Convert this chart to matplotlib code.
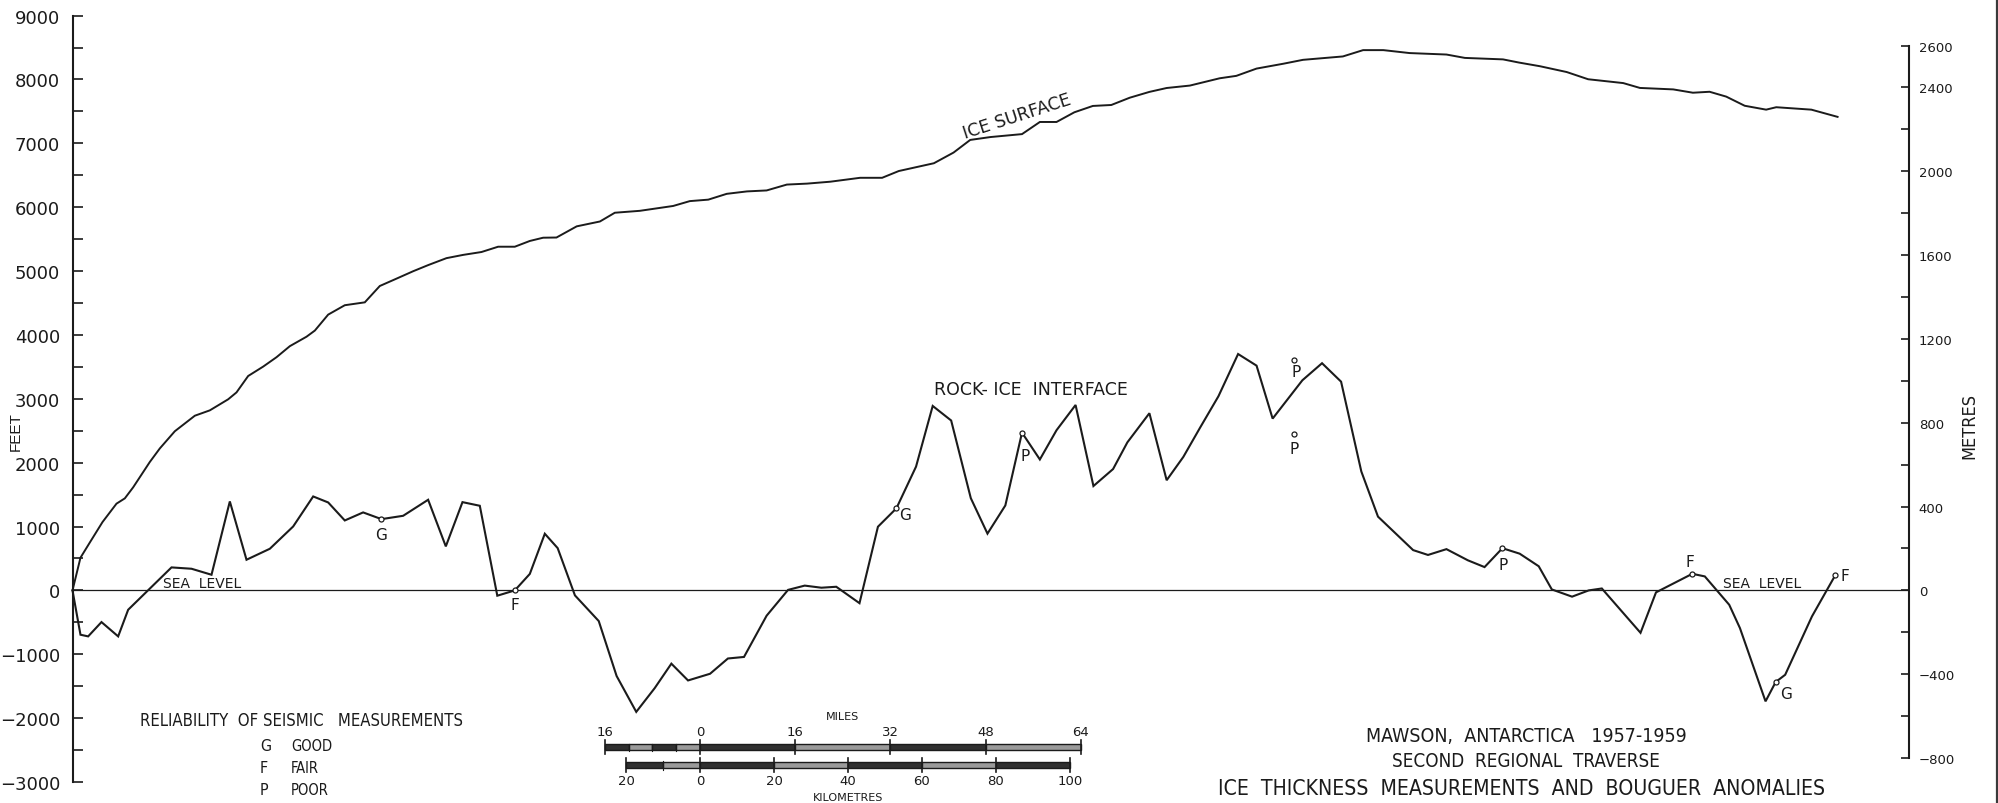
import matplotlib
matplotlib.use("Agg")
import matplotlib.pyplot as plt
from matplotlib import font_manager as fm
from matplotlib.transforms import blended_transform_factory
from matplotlib.patches import Rectangle
from matplotlib.lines import Line2D
from matplotlib.ticker import FixedLocator, FixedFormatter, NullFormatter

# ---------------------------------------------------------------- data
# distance along the traverse (miles) and elevation above sea level (feet)
ice_miles = [0, 1.34, 2.91, 5.04, 7.39, 8.79, 10.19, 12.99, 14.67, 17.19, 20.55,
             23.07, 26.15, 27.55, 29.51, 32.03, 34.27, 36.51, 39.31, 40.71, 42.95,
             45.74, 49.10, 51.62, 54.42, 57.22, 59.74, 62.82, 65.62, 68.70, 71.50,
             74.30, 76.82, 79.06, 81.3, 84.7, 88.6, 91.1, 95.3, 100.9, 103.7, 106.8,
             109.9, 113.3, 116.6, 120.0, 123.4, 127.3, 132.3, 136.0, 138.8, 144.7,
             148.0, 150.8, 154.2, 159.5, 162.5, 165.3, 168.3, 171.4, 174.5, 177.6,
             180.9, 183.8, 187.7, 192.7, 195.5, 198.9, 203.4, 206.7, 213.4, 216.8,
             220.2, 224.6, 230.8, 233.9, 240.3, 243.0, 246.5, 251.0, 254.6, 260.5,
             263.3, 268.9, 272.2, 275.0, 277.8, 280.9, 284.5, 286.2, 292.1, 296.5]
ice_feet = [0, 512, 750, 1070, 1358, 1441, 1614, 2011, 2223, 2492, 2735,
            2819, 2992, 3100, 3357, 3504, 3651, 3824, 3972, 4068, 4318,
            4465, 4510, 4766, 4881, 4997, 5093, 5202, 5253, 5298, 5381,
            5381, 5471, 5522, 5525, 5700, 5776, 5913, 5943, 6019, 6095, 6118,
            6209, 6247, 6262, 6354, 6369, 6399, 6460, 6460, 6566, 6688,
            6855, 7053, 7098, 7144, 7334, 7334, 7486, 7585, 7600, 7714,
            7805, 7866, 7904, 8018, 8056, 8170, 8246, 8307, 8360, 8459,
            8459, 8413, 8390, 8337, 8314, 8264, 8207, 8116, 8003, 7943,
            7867, 7844, 7792, 7807, 7731, 7588, 7527, 7565, 7527, 7414]

rock_miles = [0, 1.34, 2.63, 4.87, 7.67, 9.35, 16.63, 19.99, 23.35, 26.43, 29.23,
              33.15, 37.07, 40.43, 42.95, 45.74, 48.82, 51.90, 55.54, 59.74, 62.71,
              65.51, 68.42, 71.36, 74.30, 76.82, 79.34, 81.5, 84.4, 88.4, 91.4,
              94.7, 97.8, 100.6, 103.4, 107.1, 110.1, 112.8, 116.6, 120.2, 123.0,
              125.8, 128.3, 132.2, 135.3, 138.4, 141.7, 144.5, 147.6, 150.9, 153.7,
              156.7, 159.5, 162.5, 165.3, 168.5, 171.5, 174.8, 177.2, 180.9, 183.8,
              186.6, 189.4, 192.5, 195.8, 198.9, 201.6, 206.6, 209.9, 213.1, 216.5,
              219.3, 225.2, 227.7, 230.8, 234.4, 237.2, 240.2, 243.1, 246.3, 248.5,
              251.9, 254.7, 256.9, 263.4, 266.0, 272.1, 274.2, 278.3, 280.1, 284.4,
              286.1, 287.7, 292.2, 296.1]
rock_feet = [0, -694, -720, -496, -720, -303, 360, 339, 245, 1393, 480,
             652, 1001, 1471, 1377, 1095, 1221, 1116, 1168, 1419, 689,
             1382, 1325, -83, 0, 258, 887, 662, -78, -480, -1340,
             -1902, -1530, -1147, -1410, -1305, -1066, -1042, -396, 8, 75,
             42, 57, -200, 997, 1285, 1938, 2888, 2660, 1444, 889,
             1330, 2470, 2050, 2508, 2903, 1634, 1900, 2318, 2774, 1725,
             2090, 2546, 3040, 3701, 3519, 2690, 3290, 3557, 3268, 1862,
             1155, 631, 555, 646, 471, 365, 661, 575, 378, 15,
             -98, 0, 30, -664, -31, 260, 219, -225, -590, -1737,
             -1435, -1321, -407, 235]

# seismic soundings and their reliability grade
mark_miles = [51.9, 74.3, 138.4, 159.5, 205.2, 205.2, 240.2, 272.1, 286.1, 296.1]
mark_feet = [1116, 0, 1285, 2470, 3610, 2447, 661, 260, -1435, 235]
mark_grade = ["G", "F", "G", "P", "P", "P", "P", "F", "G", "F"]

feet_ticks = [-3000, -2000, -1000, 0, 1000, 2000, 3000, 4000, 5000, 6000, 7000, 8000, 9000]
feet_labels = ["\u22123000", "\u22122000", "\u22121000", "0", "1000", "2000", "3000",
               "4000", "5000", "6000", "7000", "8000", "9000"]
metre_ticks = [-800, -400, 0, 400, 800, 1200, 1600, 2000, 2400, 2600]
metre_labels = ["\u2212800", "\u2212400", "0", "400", "800", "1200", "1600", "2000",
                "2400", "2600"]

mile_scale = [-16, 0, 16, 32, 48, 64]
mile_scale_labels = ["16", "0", "16", "32", "48", "64"]
km_scale = [-20, 0, 20, 40, 60, 80, 100]
km_scale_labels = ["20", "0", "20", "40", "60", "80", "100"]

legend_codes = ["G", "F", "P"]
legend_names = ["GOOD", "FAIR", "POOR"]

FT_PER_M = 3.28084
KM_PER_MILE = 1.609344

# ---------------------------------------------------------------- fonts
def narrow_font():
    entries = fm.fontManager.ttflist
    names = {f.name for f in entries}
    if "Liberation Sans Narrow" in names:
        return {"family": "Liberation Sans Narrow"}
    for f in entries:
        if f.name == "DejaVu Sans" and str(f.stretch) in ("condensed", "semi-condensed"):
            return {"family": "DejaVu Sans", "stretch": f.stretch}
    return {"family": "Liberation Sans"}

NARROW = narrow_font()
ROUND = {"family": "DejaVu Sans"}
PLAIN = {"family": "Liberation Sans"}
INK = "#1b1b1b"

# ---------------------------------------------------------------- layout
W, H = 1999, 804
fig = plt.figure(figsize=(W / 100, H / 100), dpi=100)
fig.patch.set_facecolor("white")

PX_PER_MILE = 5.953
PX_PER_FT = 0.06387
X0_PX, Y0_PX = 72.5, 591.4          # left axis / sea level, pixels from top-left
X_RIGHT = (1909 - X0_PX) / PX_PER_MILE

ax = fig.add_axes([0, 0, 1, 1])
ax.set_xlim(-X0_PX / PX_PER_MILE, (W - X0_PX) / PX_PER_MILE)
ax.set_ylim(-(H - Y0_PX) / PX_PER_FT, Y0_PX / PX_PER_FT)
ax.patch.set_alpha(0)

for side in ("top", "bottom", "right"):
    ax.spines[side].set_visible(False)
ax.spines["left"].set_position(("data", 0))
ax.spines["left"].set_bounds(-3000, 9000)
ax.spines["left"].set_linewidth(1.5)
ax.spines["left"].set_color(INK)
ax.set_xticks([])
ax.yaxis.set_major_locator(FixedLocator(feet_ticks))
ax.yaxis.set_major_formatter(FixedFormatter(feet_labels))
ax.yaxis.set_minor_locator(FixedLocator([t + 500 for t in feet_ticks[:-1]]))
ax.yaxis.set_minor_formatter(NullFormatter())
ax.tick_params(axis="y", which="both", direction="in", length=7, width=1.2,
               color=INK, pad=9, labelsize=13)
for lab in ax.get_yticklabels():
    lab.set_fontfamily(ROUND["family"])
    lab.set_color(INK)

# metres scale on the right
ax2 = ax.twinx()
ax2.set_ylim(ax.get_ylim()[0] / FT_PER_M, ax.get_ylim()[1] / FT_PER_M)
for side in ("top", "bottom", "left"):
    ax2.spines[side].set_visible(False)
ax2.spines["right"].set_position(("data", X_RIGHT))
ax2.spines["right"].set_bounds(-800, 2600)
ax2.spines["right"].set_linewidth(1.5)
ax2.spines["right"].set_color(INK)
ax2.yaxis.set_major_locator(FixedLocator(metre_ticks))
ax2.yaxis.set_major_formatter(FixedFormatter(metre_labels))
ax2.yaxis.set_minor_locator(FixedLocator([2200, 1800, 1400, 1000, 600, 200, -200, -600]))
ax2.yaxis.set_minor_formatter(NullFormatter())
ax2.tick_params(axis="y", which="both", direction="in", length=5.5, width=1.2,
                color=INK, pad=7, labelsize=9.5)
for lab in ax2.get_yticklabels():
    lab.set_fontfamily(ROUND["family"])
    lab.set_color(INK)

# ---------------------------------------------------------------- profiles
ax.hlines(0, 0, X_RIGHT, color=INK, lw=0.9, zorder=2)
ax.plot(ice_miles, ice_feet, color=INK, lw=1.4, solid_joinstyle="miter", zorder=3)
ax.plot(rock_miles, rock_feet, color=INK, lw=1.5, solid_joinstyle="miter", zorder=3)
ax.plot(mark_miles, mark_feet, ls="none", marker="o", ms=3.6, mfc="white",
        mec=INK, mew=0.9, zorder=4)

label_offsets = [(0, -15), (0, -14), (9, -6), (3, -23), (2, -12), (0, -14),
                 (1, -16), (-2, 12), (10, -11), (10, 0)]
for x, y, g, (dx, dy) in zip(mark_miles, mark_feet, mark_grade, label_offsets):
    ax.annotate(g, (x, y), xytext=(dx, dy), textcoords="offset pixels",
                ha="center", va="center", fontsize=11, color=INK, **ROUND)

ax.text(158.7, 7428, "ICE SURFACE", rotation=18, rotation_mode="anchor",
        ha="center", va="center", fontsize=12.5, color=INK, **ROUND)
ax.text(161.0, 3153, "ROCK- ICE  INTERFACE", ha="center", va="center",
        fontsize=12.5, color=INK, **ROUND)
ax.text(21.8, 115, "SEA  LEVEL", ha="center", va="center", fontsize=10,
        color=INK, **ROUND)
ax.text(283.8, 115, "SEA  LEVEL", ha="center", va="center", fontsize=10,
        color=INK, **ROUND)


def fx(px):
    return px / W


def fy(py):
    return 1 - py / H


fig.text(fx(16), fy(432), "FEET", rotation=90, ha="center", va="center",
         fontsize=11, color=INK, **PLAIN)
fig.text(fx(1969), fy(426), "METRES", rotation=90, ha="center", va="center",
         fontsize=13, color=INK, **NARROW)

# ---------------------------------------------------------------- scale bars
SCALE_X0 = (700 - X0_PX) / PX_PER_MILE
tb = blended_transform_factory(ax.transData, fig.transFigure)


def draw_bar(edges, yc, half):
    for i, (a, b) in enumerate(zip(edges[:-1], edges[1:])):
        face = "#303030" if i % 2 == 0 else "#9a9a9a"
        ax.add_patch(Rectangle((SCALE_X0 + a, fy(yc + half)), b - a, 2 * half / H,
                               transform=tb, facecolor=face, edgecolor=INK,
                               lw=1.0, clip_on=False))


def draw_ticks(pos, yc, half, lw):
    for p in pos:
        ax.add_line(Line2D([SCALE_X0 + p, SCALE_X0 + p], [fy(yc - half), fy(yc + half)],
                           transform=tb, color=INK, lw=lw, clip_on=False))


mile_edges = [-16, -12, -8, -4, 0, 16, 32, 48, 64]
km_edges_mi = [k / KM_PER_MILE for k in [-20, -10, 0, 20, 40, 60, 80, 100]]
draw_bar(mile_edges, 748, 3.0)
draw_bar(km_edges_mi, 766, 3.0)
draw_ticks(mile_scale, 748, 7, 1.2)
draw_ticks([-12, -8, -4], 748, 3.5, 0.8)
draw_ticks([k / KM_PER_MILE for k in km_scale], 766, 7, 1.2)
draw_ticks([-10 / KM_PER_MILE], 766, 4.5, 0.8)

for m, lab in zip(mile_scale, mile_scale_labels):
    ax.text(SCALE_X0 + m, fy(733), lab, transform=tb, ha="center", va="center",
            fontsize=9.5, color=INK, **ROUND)
for k, lab in zip(km_scale, km_scale_labels):
    ax.text(SCALE_X0 + k / KM_PER_MILE, fy(782), lab, transform=tb, ha="center",
            va="center", fontsize=9.5, color=INK, **ROUND)
ax.text(SCALE_X0 + 24, fy(717), "MILES", transform=tb, ha="center", va="center",
        fontsize=8, color=INK, **ROUND)
ax.text(SCALE_X0 + 40 / KM_PER_MILE, fy(798), "KILOMETRES", transform=tb,
        ha="center", va="center", fontsize=8, color=INK, **ROUND)

# ---------------------------------------------------------------- legend
fig.text(fx(301), fy(721), "RELIABILITY  OF SEISMIC   MEASUREMENTS", ha="center",
         va="center", fontsize=12, color=INK, **NARROW)
for i, (code, name) in enumerate(zip(legend_codes, legend_names)):
    yrow = 747 + 22 * i
    fig.text(fx(260), fy(yrow), code, ha="left", va="center", fontsize=11.5,
             color=INK, **NARROW)
    fig.text(fx(291), fy(yrow), name, ha="left", va="center", fontsize=10.5,
             color=INK, **NARROW)

# ---------------------------------------------------------------- title block
fig.text(fx(1526), fy(736), "MAWSON,  ANTARCTICA   1957-1959", ha="center",
         va="center", fontsize=14, color=INK, **NARROW)
fig.text(fx(1526), fy(762), "SECOND  REGIONAL  TRAVERSE", ha="center",
         va="center", fontsize=13.5, color=INK, **NARROW)
fig.text(fx(1522), fy(789), "ICE  THICKNESS  MEASUREMENTS  AND  BOUGUER  ANOMALIES",
         ha="center", va="center", fontsize=15.2, color=INK, **NARROW)

# sheet edge
fig.add_artist(Line2D([fx(1997), fx(1997)], [0, 1], color="#3a3a3a", lw=1.6))

fig.savefig("out.png", dpi=100, facecolor="white")
